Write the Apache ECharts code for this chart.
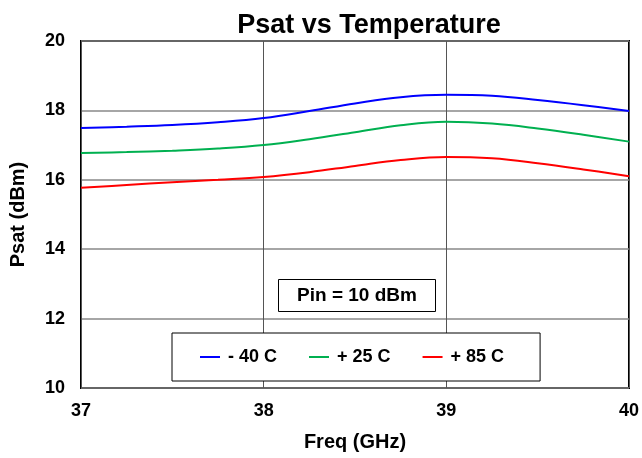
<!DOCTYPE html>
<html><head><meta charset="utf-8">
<script src="https://cdn.jsdelivr.net/npm/echarts@6/dist/echarts.min.js"></script>
<style>html,body{margin:0;padding:0;background:#fff}#c{width:642px;height:458px}</style>
</head><body><div id="c"></div>
<script>
const freq = [37, 37.25, 37.5, 37.75, 38, 38.25, 38.5, 38.75, 39, 39.25, 39.5, 39.75, 40];
const m40 = [17.49, 17.53, 17.58, 17.66, 17.78, 17.98, 18.2, 18.38, 18.45, 18.42, 18.3, 18.15, 17.98];
const p25 = [16.77, 16.8, 16.84, 16.9, 17.0, 17.17, 17.37, 17.57, 17.67, 17.62, 17.48, 17.3, 17.1];
const p85 = [15.77, 15.85, 15.93, 16.0, 16.08, 16.22, 16.4, 16.57, 16.66, 16.62, 16.48, 16.3, 16.1];
const names = ['- 40 C', '+ 25 C', '+ 85 C'];
const colors = ['#0000FF', '#00B050', '#FF0000'];
const yTicks = [10, 12, 14, 16, 18, 20];
const xTicks = [37, 38, 39, 40];

const font = 'Liberation Sans, Arial, sans-serif';
const chart = echarts.init(document.getElementById('c'));
const mk = (arr) => freq.map((f, i) => [f, arr[i]]);
const data = [m40, p25, p85];
chart.setOption({
  animation: false,
  title: {text: 'Psat vs Temperature', left: 364, top: 7, textAlign: 'center',
    textStyle: {fontFamily: font, fontWeight: 'bold', fontSize: 27, color: '#000'}},
  grid: {left: 80, right: 13, top: 41, bottom: 70, show: true, borderColor: '#000', borderWidth: 2, backgroundColor: 'transparent'},
  xAxis: {type: 'value', min: xTicks[0], max: xTicks[xTicks.length-1], interval: 1,
    name: 'Freq (GHz)', nameLocation: 'middle', nameGap: 44,
    nameTextStyle: {fontFamily: font, fontWeight: 'bold', fontSize: 20, color: '#000'},
    axisLine: {show: false}, axisTick: {show: false},
    axisLabel: {fontFamily: font, fontWeight: 'bold', fontSize: 18, color: '#000', margin: 14},
    splitLine: {show: true, lineStyle: {color: '#555', width: 1}}},
  yAxis: {type: 'value', min: yTicks[0], max: yTicks[yTicks.length-1], interval: 2,
    name: 'Psat (dBm)', nameLocation: 'middle', nameGap: 53,
    nameTextStyle: {fontFamily: font, fontWeight: 'bold', fontSize: 20, color: '#000'},
    axisLine: {show: false}, axisTick: {show: false},
    axisLabel: {fontFamily: font, fontWeight: 'bold', fontSize: 18, color: '#000', margin: 16},
    splitLine: {show: true, lineStyle: {color: '#888', width: 1.5}}},
  legend: {left: 172, top: 333, padding: [15, 36, 15, 28], itemGap: 32, itemWidth: 20, itemHeight: 2,
    backgroundColor: '#fff', borderColor: '#000', borderWidth: 1, borderRadius: 0,
    icon: 'rect',
    textStyle: {fontFamily: font, fontWeight: 'bold', fontSize: 18, color: '#000', padding: [0, 0, 0, 3]},
    data: names},
  graphic: [{type: 'group', left: 278, top: 279, children: [
    {type: 'rect', shape: {x: 0, y: 0, width: 157, height: 32}, style: {fill: '#fff', stroke: '#000', lineWidth: 1}},
    {type: 'text', x: 78.5, y: 16, style: {text: 'Pin = 10 dBm', fontFamily: font, fontWeight: 'bold', fontSize: 19, fill: '#000', align: 'center', verticalAlign: 'middle'}}
  ]}],
  series: data.map((arr, i) => ({
    name: names[i], type: 'line', data: mk(arr), smooth: 0.4, showSymbol: false,
    lineStyle: {color: colors[i], width: 2}, itemStyle: {color: colors[i]}
  }))
});
</script></body></html>
